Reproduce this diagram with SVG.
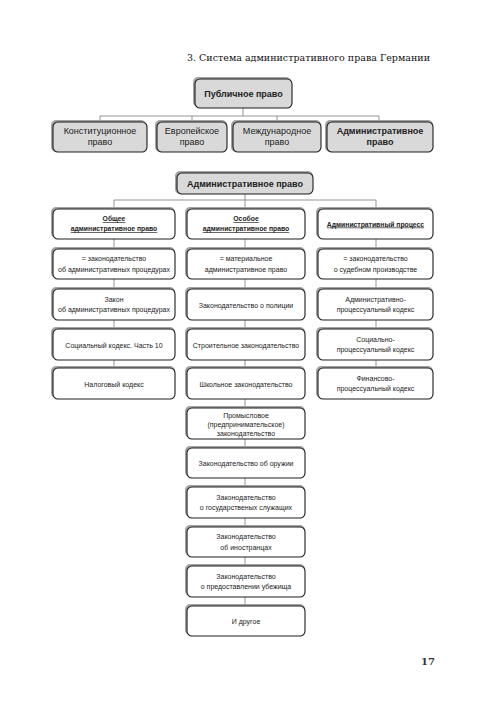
<svg xmlns="http://www.w3.org/2000/svg" width="500" height="710" viewBox="0 0 500 710">
<style>
.sh{fill:#a3a3a3}
.bx{fill:#fff;stroke:#1e1e1e;stroke-width:1.1}
.gy{fill:#d9d9d9;stroke:#1e1e1e;stroke-width:1.1}
.ln{stroke:#7a7a7a;stroke-width:0.8;fill:none}
text{font-family:"Liberation Sans",Arial,sans-serif;fill:#222;text-anchor:middle}
.t{font-size:7px}
.m{font-size:9px}
.bd{font-weight:bold}
.h{font-size:6.8px;font-weight:bold;text-decoration:underline}
.ti{font-family:"DejaVu Serif","Liberation Serif",serif;font-size:10px;text-anchor:start;fill:#111}
</style>
<rect width="500" height="710" fill="#fff"/>
<text class="ti" x="187" y="61" textLength="243" lengthAdjust="spacingAndGlyphs">3. Система административного права Германии</text>
<g id="connectors">
<path class="ln" d="M243 107V116M100 116H379M100 116V122M192 116V122M277 116V122M379 116V122"/>
<path class="ln" d="M245 194V200M114 200H376M114 200V384M245 200V620M376 200V384"/>
</g>
<g id="n-public"><rect class="sh" x="193" y="77" width="98" height="30" rx="5"/><rect class="gy" x="195" y="79" width="97" height="29" rx="5"/><text class="m bd" x="243.5" y="96.5">Публичное право</text></g>
<g id="n-konst"><rect class="sh" x="51" y="120" width="95" height="32" rx="5"/><rect class="gy" x="53" y="122" width="94" height="30" rx="5"/><text class="m" x="100" y="134">Конституционное</text><text class="m" x="100" y="145">право</text></g>
<g id="n-europ"><rect class="sh" x="155" y="120" width="72" height="32" rx="5"/><rect class="gy" x="157" y="122" width="70" height="30" rx="5"/><text class="m" x="192" y="134">Европейское</text><text class="m" x="192" y="145">право</text></g>
<g id="n-mezhd"><rect class="sh" x="231" y="120" width="90" height="32" rx="5"/><rect class="gy" x="233" y="122" width="88" height="30" rx="5"/><text class="m" x="277" y="134">Международное</text><text class="m" x="277" y="145">право</text></g>
<g id="n-adm1"><rect class="sh" x="325" y="120" width="108" height="32" rx="5"/><rect class="gy" x="327" y="122" width="106" height="30" rx="5"/><text class="m bd" x="380" y="134">Административное</text><text class="m bd" x="380" y="145">право</text></g>
<g id="n-adm2"><rect class="sh" x="175" y="171" width="138" height="23" rx="5"/><rect class="gy" x="177" y="173" width="136" height="21" rx="5"/><text class="m bd" x="245" y="186.5">Административное право</text></g>
<g id="n-obshee"><rect class="sh" x="51" y="207" width="124" height="31" rx="5"/><rect class="bx" x="53" y="209" width="122" height="30" rx="5"/><text class="h" x="114" y="221">Общее</text><text class="h" x="114" y="231">административное право</text></g>
<g id="n-osoboe"><rect class="sh" x="185" y="207" width="120" height="31" rx="5"/><rect class="bx" x="187" y="209" width="118" height="30" rx="5"/><text class="h" x="246" y="221">Особое</text><text class="h" x="246" y="231">административное право</text></g>
<g id="n-process"><rect class="sh" x="316" y="207" width="117" height="31" rx="5"/><rect class="bx" x="318" y="209" width="115" height="30" rx="5"/><text class="h" x="375.5" y="226.5">Административный процесс</text></g>
<g id="n-l1"><rect class="sh" x="51" y="247" width="124" height="31" rx="5"/><rect class="bx" x="53" y="249" width="122" height="30" rx="5"/><text class="t" x="114" y="261">= законодательство</text><text class="t" x="114" y="271.5">об административных процедурах</text></g>
<g id="n-m1"><rect class="sh" x="185" y="247" width="120" height="31" rx="5"/><rect class="bx" x="187" y="249" width="118" height="30" rx="5"/><text class="t" x="246" y="261">= материальное</text><text class="t" x="246" y="271.5">административное право</text></g>
<g id="n-r1"><rect class="sh" x="316" y="247" width="117" height="31" rx="5"/><rect class="bx" x="318" y="249" width="115" height="30" rx="5"/><text class="t" x="375.5" y="261">= законодательство</text><text class="t" x="375.5" y="271.5">о судебном производстве</text></g>
<g id="n-l2"><rect class="sh" x="51" y="287" width="124" height="32" rx="5"/><rect class="bx" x="53" y="289" width="122" height="31" rx="5"/><text class="t" x="114" y="301.5">Закон</text><text class="t" x="114" y="312">об административных процедурах</text></g>
<g id="n-m2"><rect class="sh" x="185" y="287" width="120" height="32" rx="5"/><rect class="bx" x="187" y="289" width="118" height="31" rx="5"/><text class="t" x="246" y="307.5">Законодательство о полиции</text></g>
<g id="n-r2"><rect class="sh" x="316" y="287" width="117" height="32" rx="5"/><rect class="bx" x="318" y="289" width="115" height="31" rx="5"/><text class="t" x="375.5" y="301.5">Административно-</text><text class="t" x="375.5" y="312">процессуальный кодекс</text></g>
<g id="n-l3"><rect class="sh" x="51" y="327" width="124" height="32" rx="5"/><rect class="bx" x="53" y="329" width="122" height="31" rx="5"/><text class="t" x="114" y="347.5">Социальный кодекс. Часть 10</text></g>
<g id="n-m3"><rect class="sh" x="185" y="327" width="120" height="32" rx="5"/><rect class="bx" x="187" y="329" width="118" height="31" rx="5"/><text class="t" x="246" y="347.5">Строительное законодательство</text></g>
<g id="n-r3"><rect class="sh" x="316" y="327" width="117" height="32" rx="5"/><rect class="bx" x="318" y="329" width="115" height="31" rx="5"/><text class="t" x="375.5" y="341.5">Социально-</text><text class="t" x="375.5" y="352">процессуальный кодекс</text></g>
<g id="n-l4"><rect class="sh" x="51" y="366" width="124" height="32" rx="5"/><rect class="bx" x="53" y="368" width="122" height="31" rx="5"/><text class="t" x="114" y="386.5">Налоговый кодекс</text></g>
<g id="n-m4"><rect class="sh" x="185" y="366" width="120" height="32" rx="5"/><rect class="bx" x="187" y="368" width="118" height="31" rx="5"/><text class="t" x="246" y="386.5">Школьное законодательство</text></g>
<g id="n-r4"><rect class="sh" x="316" y="366" width="117" height="32" rx="5"/><rect class="bx" x="318" y="368" width="115" height="31" rx="5"/><text class="t" x="375.5" y="380.5">Финансово-</text><text class="t" x="375.5" y="391">процессуальный кодекс</text></g>
<g id="n-m5"><rect class="sh" x="185" y="406" width="120" height="32" rx="5"/><rect class="bx" x="187" y="408" width="118" height="31" rx="5"/><text class="t" x="246" y="417.5">Промысловое</text><text class="t" x="246" y="426.5">(предпринимательское)</text><text class="t" x="246" y="435.5">законодательство</text></g>
<g id="n-m6"><rect class="sh" x="185" y="446" width="120" height="31" rx="5"/><rect class="bx" x="187" y="448" width="118" height="30" rx="5"/><text class="t" x="246" y="465.5">Законодательство об оружии</text></g>
<g id="n-m7"><rect class="sh" x="185" y="485" width="120" height="32" rx="5"/><rect class="bx" x="187" y="487" width="118" height="31" rx="5"/><text class="t" x="246" y="499.5">Законодательство</text><text class="t" x="246" y="510">о государственых служащих</text></g>
<g id="n-m8"><rect class="sh" x="185" y="525" width="120" height="31" rx="5"/><rect class="bx" x="187" y="527" width="118" height="30" rx="5"/><text class="t" x="246" y="539">Законодательство</text><text class="t" x="246" y="549.5">об иностранцах</text></g>
<g id="n-m9"><rect class="sh" x="185" y="564" width="120" height="32" rx="5"/><rect class="bx" x="187" y="566" width="118" height="31" rx="5"/><text class="t" x="246" y="578.5">Законодательство</text><text class="t" x="246" y="589">о предоставлении убежища</text></g>
<g id="n-m10"><rect class="sh" x="185" y="604" width="120" height="31" rx="5"/><rect class="bx" x="187" y="606" width="118" height="30" rx="5"/><text class="t" x="246" y="623.5">И другое</text></g>
<text x="428" y="665" style="font-family:'DejaVu Serif','Liberation Serif',serif;font-size:10px;font-weight:bold;fill:#333">17</text>
</svg>
